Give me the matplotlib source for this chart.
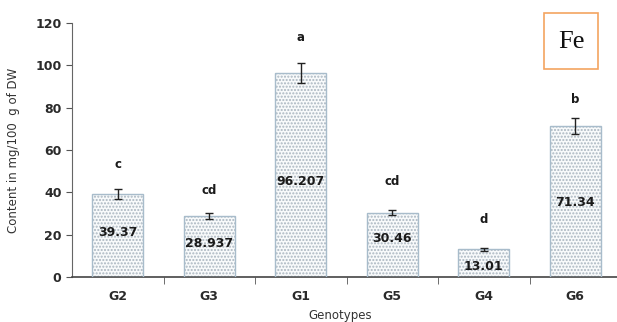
import numpy as np
import matplotlib
matplotlib.use("Agg")
import matplotlib.pyplot as plt
from matplotlib.patches import Rectangle

# values
genotypes = ['G2', 'G3', 'G1', 'G5', 'G4', 'G6']
means = [39.37, 28.937, 96.207, 30.46, 13.01, 71.34]
errs = [2.4, 1.4, 4.7, 1.4, 0.5, 3.8]
value_labels = ['39.37', '28.937', '96.207', '30.46', '13.01', '71.34']
letters = ['c', 'cd', 'a', 'cd', 'd', 'b']
letter_y = [53, 41, 113, 45, 27, 84]
label_y = [21, 16, 45, 18, 5, 35]

fig = plt.figure(figsize=(6.17, 3.22), dpi=100)
ax = fig.add_axes([72/617, 45/322, 549/617, 254/322])

x = np.arange(len(genotypes))
# dotted fill first, then the outline on top
ax.bar(x, means, 0.56, color='#f8fafb', edgecolor='#aab6c0', hatch='.....',
       linewidth=0, zorder=2)
ax.bar(x, means, 0.56, color='none', edgecolor='#a8bccb', linewidth=1.0, zorder=3)
ax.errorbar(x, means, yerr=errs, fmt='none', ecolor='#222222', elinewidth=1,
            capsize=3, capthick=1, zorder=4)

for i in range(len(x)):
    ax.text(x[i], label_y[i], value_labels[i], ha='center', va='center',
            fontsize=9, fontweight='bold', color='#1a1a1a', zorder=5)
    ax.text(x[i], letter_y[i], letters[i], ha='center', va='center',
            fontsize=8.5, fontweight='bold', color='#1a1a1a')

ax.set_xlim(-0.5, 5.5)
ax.set_ylim(0, 120)
ax.set_yticks(range(0, 121, 20))
ax.set_xticks(x)
ax.set_xticklabels(genotypes)
ax.set_xticks(np.arange(0.5, 5.5, 1), minor=True)
ax.tick_params(axis='x', which='major', length=0, pad=9)
ax.tick_params(axis='x', which='minor', length=5, direction='out', color='#555555')
ax.tick_params(axis='y', length=4, direction='out', color='#555555')
for lab in ax.get_xticklabels() + ax.get_yticklabels():
    lab.set_fontweight('bold')
    lab.set_fontsize(9)
    lab.set_color('#2a2a2a')

for s in ['top', 'right']:
    ax.spines[s].set_visible(False)
ax.spines['left'].set_color('#666666')
ax.spines['bottom'].set_color('#444444')
ax.spines['bottom'].set_linewidth(1.2)

ax.set_ylabel('Content in mg/100  g of DW', fontsize=8.5, color='#333333')
ax.yaxis.set_label_coords(-0.095, 0.5)
fig.text(340/617, 1 - 316/322, 'Genotypes', ha='center', va='center',
         fontsize=8.5, color='#333333')

# "Fe" box in the top right corner
fig.add_artist(Rectangle((544/617, 1 - 69/322), 54/617, 56/322,
                         transform=fig.transFigure, facecolor='white',
                         edgecolor='#f4a460', linewidth=1.2))
fig.text(571/617, 1 - 42/322, 'Fe', ha='center', va='center', fontsize=19,
         family='Liberation Serif', color='#111111')

fig.savefig('out.png', dpi=100)
